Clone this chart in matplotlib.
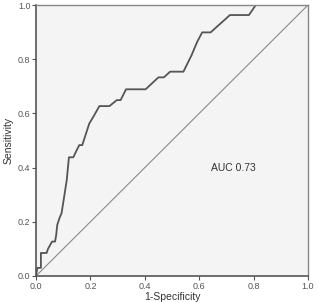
import matplotlib
matplotlib.use("Agg")
import matplotlib.pyplot as plt

# ROC curve points (1-specificity, sensitivity)
fpr = [0.0, 0.005, 0.018, 0.018, 0.039, 0.044, 0.054, 0.059, 0.070, 0.074,
       0.078, 0.086, 0.094, 0.100, 0.113, 0.121, 0.137, 0.150, 0.159, 0.170,
       0.180, 0.196, 0.211, 0.233, 0.270, 0.297, 0.311, 0.331, 0.403, 0.450,
       0.470, 0.493, 0.542, 0.572, 0.593, 0.611, 0.642, 0.713, 0.783, 0.808,
       1.0]
tpr = [0.0, 0.03, 0.03, 0.085, 0.085, 0.100, 0.118, 0.127, 0.127, 0.150,
       0.188, 0.213, 0.232, 0.270, 0.354, 0.438, 0.438, 0.465, 0.483, 0.483,
       0.514, 0.563, 0.588, 0.627, 0.627, 0.649, 0.649, 0.689, 0.689, 0.733,
       0.733, 0.754, 0.754, 0.815, 0.865, 0.899, 0.899, 0.963, 0.963, 1.0,
       1.0]
ref_line = [0.0, 1.0]
ticks = [0.0, 0.2, 0.4, 0.6, 0.8, 1.0]
auc_label = "AUC 0.73"

plt.rcParams['font.family'] = ['Liberation Sans', 'DejaVu Sans']

fig = plt.figure(figsize=(3.19, 3.02), dpi=100)
ax = fig.add_axes([0.1129, 0.0861, 0.8526, 0.8973])
ax.set_facecolor('#f4f4f4')

ax.plot(ref_line, ref_line, color='#8a8a8a', linewidth=0.8)
ax.plot(fpr, tpr, color='#555555', linewidth=1.3)

ax.text(0.724, 0.40, auc_label, fontsize=7.5, color='#333333',
        ha='center', va='center')

ax.set_xlim(0, 1)
ax.set_ylim(0, 1)
ax.set_xticks(ticks)
ax.set_yticks(ticks)
ax.set_xticklabels([f"{t:.1f}" for t in ticks])
ax.set_yticklabels([f"{t:.1f}" for t in ticks])
ax.tick_params(labelsize=6.5, colors='#555555', length=3, width=0.8, pad=1)

for side in ['left', 'bottom']:
    ax.spines[side].set_color('#555555')
    ax.spines[side].set_linewidth(1.2)
for side in ['top', 'right']:
    ax.spines[side].set_color('#888888')
    ax.spines[side].set_linewidth(1.0)

ax.set_xlabel("1-Specificity", fontsize=7.5, color='#333333', labelpad=1)
ax.set_ylabel("Sensitivity", fontsize=7.5, color='#333333', labelpad=3)

fig.savefig("out.png", dpi=100)
